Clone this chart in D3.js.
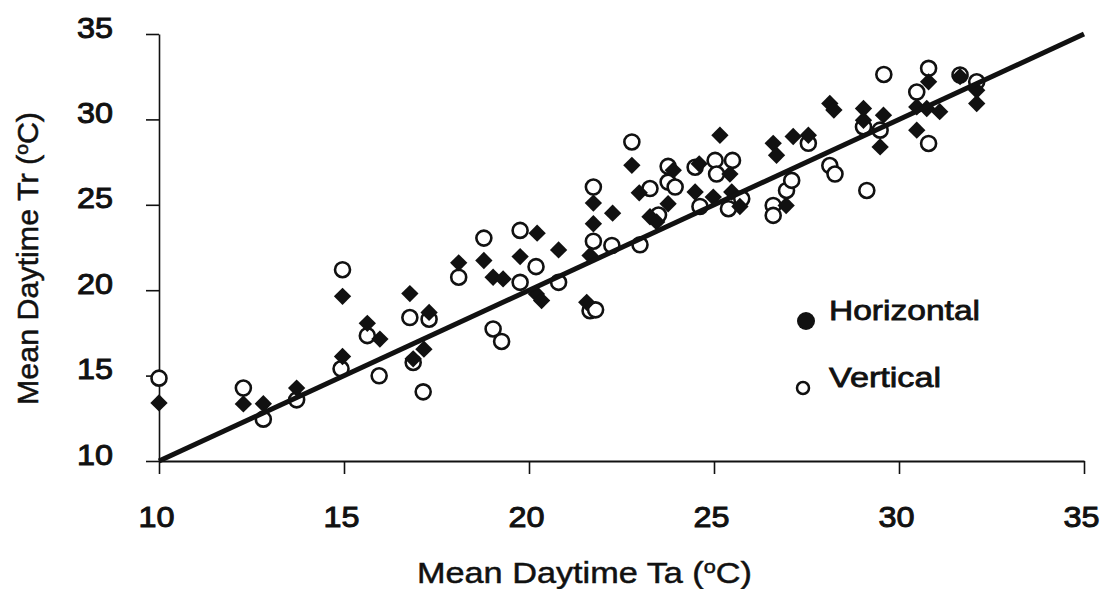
<!DOCTYPE html>
<html lang="en">
<head>
    <meta charset="UTF-8">
    <title>Mean Daytime Tr vs Ta</title>
    <script type="text/javascript" src="https://cdn.jsdelivr.net/npm/d3@7"></script>
    <style>
        body { margin: 0; background: #fff; }
        text { font-family: Arial, "Liberation Sans", sans-serif; fill: #111; }
    </style>
</head>
<body>
<script type="text/javascript">
    var w = 1105;
    var h = 589;

    var xTicks = [10, 15, 20, 25, 30, 35];
    var yTicks = [10, 15, 20, 25, 30, 35];

    // 1:1 line end points
    var lineX = [10, 35];

    // Horizontal (filled diamonds) [Ta, Tr]
    var horizontal = [
        [10, 13.4], [12.28, 13.34], [12.82, 13.35], [13.72, 14.27], [14.96, 19.64], [14.96, 16.12],
        [15.63, 18.06], [15.97, 17.14], [16.78, 19.8], [17.3, 18.7], [17.16, 16.55], [16.87, 15.98],
        [18.1, 21.6], [18.78, 21.74], [19.03, 20.76], [19.3, 20.66], [20.22, 23.34], [19.76, 21.97],
        [20.8, 22.36], [20.2, 19.78], [20.34, 19.39], [25.16, 29.07], [22.78, 27.31], [21.74, 25.1],
        [22.26, 24.51], [21.74, 23.89], [21.65, 22.03], [21.56, 19.29], [22.98, 25.7], [23.9, 27.02],
        [23.76, 25.06], [23.27, 24.3], [23.45, 24.0], [24.6, 27.4], [25.43, 26.8], [24.49, 25.75],
        [24.98, 25.45], [25.48, 25.75], [25.7, 24.9], [26.6, 28.6], [26.69, 27.9], [27.14, 29.0],
        [26.95, 24.96], [30.8, 32.2], [31.65, 32.5], [32.1, 31.7], [32.1, 30.93], [30.48, 30.73],
        [30.75, 30.64], [31.1, 30.45], [30.48, 29.37], [28.13, 30.93], [28.24, 30.55], [29.04, 30.64],
        [29.04, 29.95], [29.58, 30.25], [29.49, 28.39], [27.55, 29.07]
    ];

    // Vertical (open circles) [Ta, Tr]
    var vertical = [
        [10, 14.85], [12.28, 14.27], [12.82, 12.45], [13.72, 13.58], [14.96, 21.2], [14.92, 15.4],
        [15.63, 17.34], [15.95, 14.99], [16.78, 18.4], [17.3, 18.3], [16.87, 15.77], [17.14, 14.05],
        [18.1, 20.76], [18.78, 23.05], [19.03, 17.73], [19.26, 17.0], [19.76, 23.5], [20.19, 21.38],
        [19.76, 20.46], [20.8, 20.46], [22.78, 28.68], [21.74, 26.04], [21.74, 22.87], [22.24, 22.62],
        [23.0, 22.66], [21.65, 18.8], [21.8, 18.85], [23.27, 25.95], [23.76, 27.25], [23.76, 26.33],
        [23.95, 26.04], [23.5, 24.4], [24.49, 27.2], [25.03, 27.6], [25.5, 27.6], [25.07, 26.8],
        [24.62, 24.9], [25.75, 25.35], [25.39, 24.77], [26.96, 25.84], [27.1, 26.43], [26.6, 24.96],
        [26.6, 24.38], [29.59, 32.63], [30.8, 32.99], [30.48, 31.6], [31.65, 32.6], [32.1, 32.2],
        [30.8, 28.59], [29.04, 29.56], [29.49, 29.37], [27.55, 28.6], [28.13, 27.3], [28.27, 26.8],
        [29.13, 25.84]
    ];

    var svg = d3.select("body")
        .append("svg")
        .attr("width", w)
        .attr("height", h);

    var xScale = d3.scaleLinear().domain([10, 35]).range([159, 1084]);
    var yScale = d3.scaleLinear().domain([10, 35]).range([461, 34]);

    // y axis
    var yAxis = svg.append("g")
        .attr("transform", "translate(159,0)")
        .call(d3.axisLeft(yScale).tickValues(yTicks).tickSize(13).tickSizeOuter(0).tickPadding(33));
    yAxis.select(".domain").attr("stroke", "#111").attr("stroke-width", 1.6);
    yAxis.selectAll(".tick line").attr("stroke", "#111").attr("stroke-width", 1.6);
    yAxis.selectAll(".tick text")
        .attr("font-size", "30px")
        .attr("dy", "0.1em")
        .attr("stroke", "#111").attr("stroke-width", 1)
        .attr("textLength", function (d) { return String(d).length * 18; })
        .attr("lengthAdjust", "spacingAndGlyphs");

    // x axis
    var xAxis = svg.append("g")
        .attr("transform", "translate(0,461)")
        .call(d3.axisBottom(xScale).tickValues(xTicks).tickSize(13).tickSizeOuter(0).tickPadding(32));
    xAxis.select(".domain").attr("stroke", "#111").attr("stroke-width", 2);
    xAxis.selectAll(".tick line").attr("stroke", "#111").attr("stroke-width", 1.6);
    xAxis.selectAll(".tick text")
        .attr("font-size", "30px")
        .attr("dx", "-0.1em")
        .attr("stroke", "#111").attr("stroke-width", 1)
        .attr("textLength", function (d) { return String(d).length * 18; })
        .attr("lengthAdjust", "spacingAndGlyphs");

    // open circles (Vertical)
    svg.append("g").selectAll("circle")
        .data(vertical).enter()
        .append("circle")
        .attr("cx", function (d) { return xScale(d[0]); })
        .attr("cy", function (d) { return yScale(d[1]); })
        .attr("r", 7.5)
        .attr("fill", "#fff")
        .attr("stroke", "#111")
        .attr("stroke-width", 2.6);

    // filled diamonds (Horizontal)
    var diamond = d3.symbol().type(d3.symbolSquare).size(150);
    svg.append("g").selectAll("path")
        .data(horizontal).enter()
        .append("path")
        .attr("d", diamond)
        .attr("transform", function (d) {
            return "translate(" + xScale(d[0]) + "," + yScale(d[1]) + ") rotate(45)";
        })
        .attr("fill", "#111");

    // 1:1 line
    svg.append("path")
        .datum(lineX)
        .attr("d", d3.line()
            .x(function (d) { return xScale(d); })
            .y(function (d) { return yScale(d); }))
        .attr("stroke", "#111")
        .attr("stroke-width", 5)
        .attr("fill", "none");

    // legend
    svg.append("circle").attr("cx", 806).attr("cy", 321).attr("r", 9).attr("fill", "#111");
    svg.append("circle").attr("cx", 803).attr("cy", 388).attr("r", 6).attr("fill", "#fff")
        .attr("stroke", "#111").attr("stroke-width", 2.5);
    svg.append("text").attr("x", 829).attr("y", 320).attr("font-size", "28px")
        .attr("stroke", "#111").attr("stroke-width", 0.8)
        .attr("textLength", 151).attr("lengthAdjust", "spacingAndGlyphs")
        .text("Horizontal");
    svg.append("text").attr("x", 829).attr("y", 387).attr("font-size", "28px")
        .attr("stroke", "#111").attr("stroke-width", 0.8)
        .attr("textLength", 112).attr("lengthAdjust", "spacingAndGlyphs")
        .text("Vertical");

    // axis titles
    var xTitle = svg.append("text")
        .attr("x", 417).attr("y", 583)
        .attr("font-size", "30px")
        .attr("stroke", "#111").attr("stroke-width", 0.5)
        .attr("textLength", 335).attr("lengthAdjust", "spacingAndGlyphs");
    xTitle.append("tspan").text("Mean Daytime Ta (");
    xTitle.append("tspan").attr("font-size", "19px").attr("dy", "-10").text("o");
    xTitle.append("tspan").attr("dy", "10").text("C)");

    var yTitle = svg.append("text")
        .attr("transform", "translate(38,405) rotate(-90)")
        .attr("font-size", "30px")
        .attr("stroke", "#111").attr("stroke-width", 0.5)
        .attr("textLength", 293).attr("lengthAdjust", "spacingAndGlyphs");
    yTitle.append("tspan").text("Mean Daytime Tr (");
    yTitle.append("tspan").attr("font-size", "19px").attr("dy", "-10").text("o");
    yTitle.append("tspan").attr("dy", "10").text("C)");
</script>
</body>
</html>
